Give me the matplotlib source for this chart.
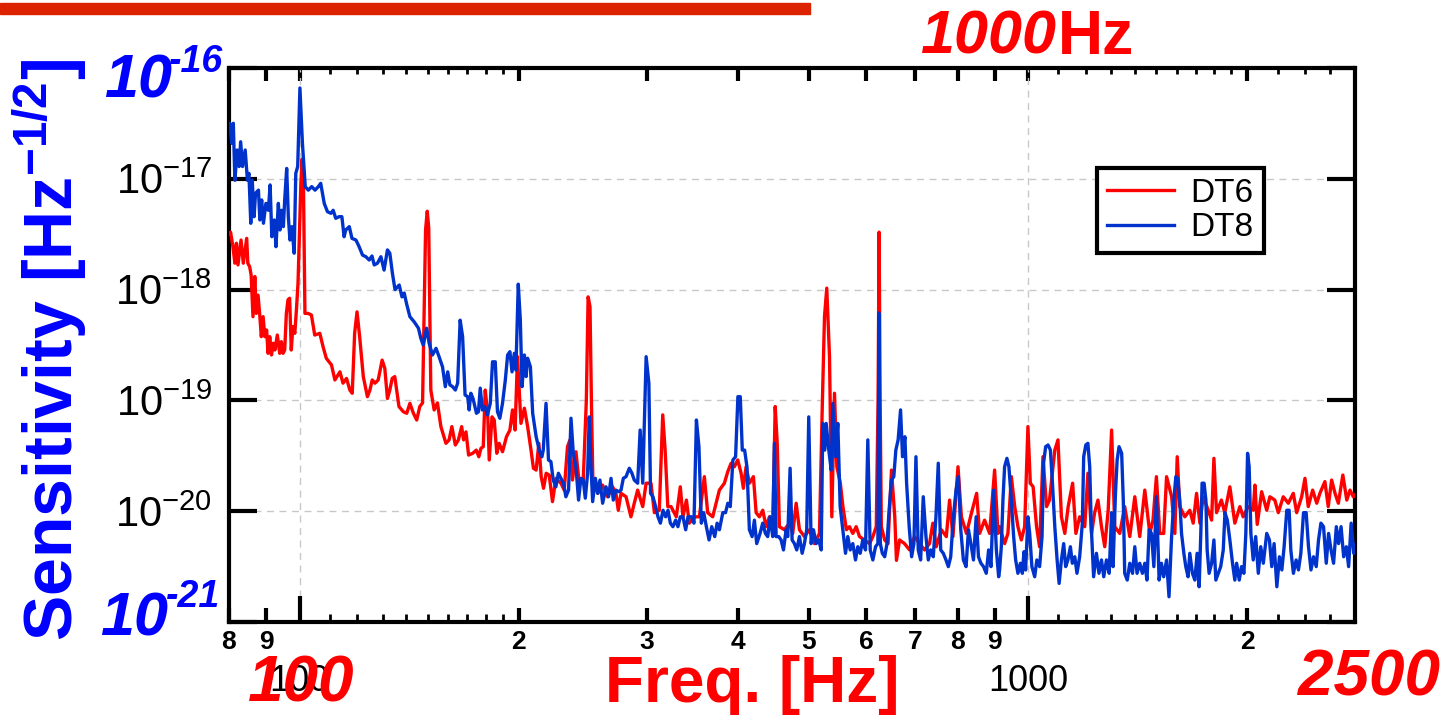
import matplotlib
matplotlib.use("Agg")
import matplotlib.pyplot as plt
from matplotlib.ticker import FixedLocator, FixedFormatter, NullLocator, NullFormatter
from matplotlib.patches import Rectangle

# DT6 (red) spectrum
dt6_freq = [80.0, 80.4, 81.0, 81.5, 81.9, 82.3, 83.1, 83.7, 84.6, 84.9,
            85.4, 85.8, 86.3, 86.8, 87.2, 87.7, 88.2, 88.6, 89.1, 89.6,
            90.1, 90.5, 91.0, 91.5, 92.0, 92.5, 93.2, 93.9, 94.4, 94.9,
            95.4, 95.9, 96.4, 96.9, 97.4, 97.9, 98.5, 99.0, 99.5, 99.8,
            100.4, 100.8, 101.2, 101.7, 102.7, 103.8, 104.9, 106.6, 107.7, 108.8,
            110.6, 111.8, 113.6, 114.7, 116.0, 117.2, 118.1, 119.0, 119.9, 120.9,
            122.3, 123.9, 124.9, 125.8, 126.9, 128.2, 129.8, 130.9, 132.0, 133.0,
            134.0, 135.1, 136.9, 138.8, 140.3, 141.7, 143.3, 144.8, 146.2, 147.5,
            148.9, 149.7, 150.4, 151.4, 153.0, 154.6, 156.3, 158.8, 160.4, 161.8,
            163.6, 165.2, 166.9, 167.9, 169.2, 170.6, 172.8, 174.8, 176.2, 177.4,
            178.7, 179.8, 181.2, 182.1, 183.7, 185.0, 186.5, 187.9, 189.9, 192.3,
            194.4, 196.0, 197.6, 199.1, 201.3, 203.5, 205.6, 207.8, 209.4, 211.2,
            213.0, 214.6, 216.2, 218.0, 220.1, 222.4, 224.8, 228.4, 230.8, 233.2,
            235.0, 236.9, 239.5, 242.0, 245.1, 247.5, 248.9, 250.4, 251.5, 252.6,
            256.7, 260.5, 264.7, 268.9, 271.8, 273.8, 276.2, 280.6, 285.0, 288.0,
            291.1, 295.8, 299.0, 303.6, 306.9, 311.7, 315.1, 317.5, 320.2, 323.5,
            328.9, 333.1, 335.9, 339.6, 342.7, 348.2, 353.8, 359.4, 363.2, 369.0,
            373.0, 376.9, 382.9, 387.0, 391.1, 395.2, 399.4, 403.7, 406.6, 410.1,
            414.4, 419.7, 423.3, 427.7, 432.3, 436.9, 441.5, 446.2, 449.6, 452.5,
            455.6, 462.9, 470.3, 475.2, 480.4, 485.4, 493.1, 501.0, 509.0, 517.1,
            521.6, 525.4, 529.2, 533.8, 537.7, 542.3, 546.3, 552.4, 556.9, 563.1,
            568.6, 574.6, 580.8, 586.9, 596.3, 605.8, 612.2, 618.8, 622.4, 624.4,
            626.4, 628.8, 635.5, 642.3, 649.3, 656.1, 659.6, 666.1, 676.7, 687.5,
            698.4, 709.5, 720.8, 732.3, 740.0, 748.0, 760.1, 772.2, 780.2, 788.5,
            801.2, 809.9, 822.9, 836.3, 849.8, 857.8, 871.5, 885.4, 899.5, 909.1,
            913.8, 928.4, 938.2, 948.4, 958.5, 968.3, 978.8, 989.1, 999.4, 1007,
            1016, 1027, 1037, 1048, 1060, 1070, 1088, 1099, 1111, 1123,
            1135, 1151, 1163, 1177, 1196, 1208, 1222, 1234, 1247, 1261,
            1274, 1288, 1302, 1315, 1336, 1357, 1379, 1401, 1423, 1446,
            1469, 1484, 1500, 1516, 1535, 1549, 1574, 1590, 1602, 1615,
            1641, 1667, 1685, 1703, 1721, 1739, 1767, 1786, 1799, 1814,
            1842, 1862, 1892, 1922, 1953, 1973, 2005, 2037, 2048, 2063,
            2092, 2126, 2147, 2181, 2205, 2240, 2276, 2312, 2337, 2374,
            2399, 2424, 2458, 2490, 2515, 2555, 2582, 2610, 2638, 2666,
            2704, 2738, 2766, 2795, 2810]
dt6_asd = [3.2e-18, 3.3e-18, 2.44e-18, 1.73e-18, 2.62e-18, 1.67e-18, 2.80e-18, 1.73e-18, 2.90e-18, 1.73e-18,
           1.61e-18, 1.35e-18, 5.7e-19, 1.31e-18, 6.1e-19, 8.9e-19, 5.7e-19, 3.76e-19, 5.7e-19, 3.76e-19,
           4.32e-19, 2.66e-19, 3.76e-19, 2.57e-19, 3.28e-19, 2.85e-19, 3.89e-19, 2.66e-19, 3.39e-19, 2.66e-19,
           2.85e-19, 6.1e-19, 8.1e-19, 8.35e-19, 2.85e-19, 4.63e-19, 4.03e-19, 6.55e-19, 1.14e-18, 2.28e-18,
           9.1e-18, 1.5e-17, 1.04e-17, 6.1e-19, 6.1e-19, 5.9e-19, 3.89e-19, 4.03e-19, 3.05e-19, 2.40e-19,
           2.09e-19, 1.53e-19, 1.81e-19, 1.43e-19, 1.58e-19, 1.24e-19, 1.16e-19, 4.03e-19, 6.3e-19, 3.76e-19,
           1.64e-19, 1.08e-19, 1.24e-19, 1.53e-19, 1.43e-19, 1.53e-19, 2.31e-19, 1.95e-19, 1.04e-19, 1.24e-19,
           1.58e-19, 1.64e-19, 8.8e-20, 7.9e-20, 7.65e-20, 9.4e-20, 7.65e-20, 6.65e-20, 8.8e-20, 9.5e-20,
           3.45e-18, 5.1e-18, 3.6e-18, 1.24e-19, 8.2e-20, 9.5e-20, 5.8e-20, 4.1e-20, 4.4e-20, 5.8e-20,
           3.96e-20, 4.4e-20, 5.8e-20, 4.4e-20, 5.2e-20, 3.21e-20, 3.33e-20, 3.56e-20, 3.10e-20, 3.70e-20,
           3.82e-20, 1.24e-19, 7.65e-20, 2.90e-20, 7.1e-20, 6.65e-20, 3.33e-20, 4.1e-20, 3.44e-20, 4.7e-20,
           5.4e-20, 8.2e-20, 5.4e-20, 2.48e-19, 6.2e-20, 8.5e-20, 5.8e-20, 3.56e-20, 2.44e-20, 2.35e-20,
           4.1e-20, 2.05e-20, 1.61e-20, 2.20e-20, 2.12e-20, 1.22e-20, 1.98e-20, 1.79e-20, 1.55e-20, 3.82e-20,
           4.4e-20, 1.91e-20, 3.44e-20, 1.79e-20, 1.91e-20, 1.0e-19, 8.6e-19, 7.0e-19, 1.0e-19, 2.05e-20,
           1.45e-20, 1.72e-20, 1.35e-20, 1.66e-20, 1.45e-20, 1.02e-20, 1.45e-20, 1.35e-20, 8.9e-21, 1.18e-20,
           1.55e-20, 1.10e-20, 1.79e-20, 1.79e-20, 9.7e-21, 1.02e-20, 7.4e-20, 3.56e-20, 1.10e-20, 1.10e-20,
           8.9e-21, 1.66e-20, 8.9e-21, 1.26e-20, 7.8e-21, 8.9e-21, 8.9e-21, 2.05e-20, 9.7e-21, 8.9e-21,
           1.18e-20, 1.55e-20, 1.79e-20, 2.27e-20, 2.71e-20, 2.52e-20, 2.90e-20, 2.20e-20, 1.61e-20, 2.52e-20,
           1.79e-20, 2.05e-20, 9.7e-21, 8.9e-21, 1.02e-20, 7.25e-21, 8.9e-21, 7.25e-21, 8.8e-20, 4.1e-20,
           7.25e-21, 6.8e-21, 7.8e-21, 6.3e-21, 1.18e-20, 6.8e-21, 5.9e-21, 6.8e-21, 5.1e-21, 6.3e-21,
           8.2e-20, 5.7e-19, 1.03e-18, 2.48e-19, 8.9e-21, 1.16e-19, 2.52e-20, 1.79e-20, 1.10e-20, 6.8e-21,
           7.25e-21, 6.3e-21, 7.25e-21, 5.9e-21, 5.5e-21, 5.1e-21, 5.9e-21, 7.25e-21, 1.0e-19, 3.3e-18,
           1.0e-19, 7.25e-21, 5.5e-21, 5.1e-21, 2.35e-20, 8.9e-21, 3.6e-21, 5.5e-21, 5.1e-21, 4.47e-21,
           5.9e-21, 5.1e-21, 4.47e-21, 5.1e-21, 7.8e-21, 4.78e-21, 6.8e-21, 5.9e-21, 1.26e-20, 5.9e-21,
           2.52e-20, 8.9e-21, 6.3e-21, 9.7e-21, 1.45e-20, 6.3e-21, 8.3e-21, 6.3e-21, 2.35e-20, 6.3e-21,
           7.25e-21, 5.1e-21, 6.3e-21, 2.05e-20, 1.10e-20, 7.25e-21, 5.5e-21, 7.25e-21, 5.8e-20, 1.79e-20,
           1.66e-20, 7.25e-21, 4.78e-21, 3.10e-20, 1.10e-20, 1.26e-20, 3.56e-20, 4.4e-20, 8.9e-21, 6.3e-21,
           1.10e-20, 1.79e-20, 6.3e-21, 8.9e-21, 7.25e-21, 2.20e-20, 6.3e-21, 9.7e-21, 1.26e-20, 7.25e-21,
           4.78e-21, 1.02e-20, 5.4e-20, 7.25e-21, 6.3e-21, 1.10e-20, 5.9e-21, 1.35e-20, 5.9e-21, 1.55e-20,
           6.3e-21, 8.3e-21, 2.05e-20, 6.3e-21, 6.3e-21, 2.05e-20, 1.35e-20, 6.3e-21, 3.1e-20, 1.10e-20,
           8.9e-21, 1.02e-20, 7.8e-21, 1.45e-20, 7.8e-21, 1.35e-20, 1.02e-20, 8.3e-21, 3.0e-20, 9.7e-21,
           1.26e-20, 9.7e-21, 1.66e-20, 7.8e-21, 1.10e-20, 8.9e-21, 1.10e-20, 1.02e-20, 1.72e-20, 7.6e-21,
           1.50e-20, 1.02e-20, 1.35e-20, 1.26e-20, 9.7e-21, 1.35e-20, 1.18e-20, 1.45e-20, 9.7e-21, 1.35e-20,
           1.98e-20, 1.10e-20, 1.55e-20, 1.18e-20, 1.45e-20, 1.85e-20, 1.10e-20, 1.91e-20, 1.45e-20, 1.18e-20,
           2.12e-20, 1.26e-20, 1.55e-20, 1.35e-20, 1.4e-20]

# DT8 (blue) spectrum
dt8_freq = [79.8, 80.2, 80.7, 81.1, 81.5, 82.1, 82.6, 83.0, 83.5, 84.2,
            84.8, 85.2, 85.7, 86.1, 86.6, 87.0, 87.8, 88.2, 88.7, 89.2,
            89.9, 90.6, 91.1, 91.6, 92.3, 92.8, 93.5, 94.0, 94.5, 95.0,
            95.4, 96.0, 96.5, 97.0, 97.6, 98.3, 98.8, 99.4, 100.1, 100.9,
            101.8, 102.8, 103.9, 105.0, 106.1, 106.9, 108.1, 109.2, 110.4, 111.2,
            112.1, 113.3, 114.3, 115.1, 115.7, 117.0, 118.0, 119.5, 120.7, 122.0,
            123.3, 124.6, 125.7, 126.6, 127.9, 129.3, 130.6, 132.0, 133.0, 134.1,
            135.2, 136.3, 137.0, 138.2, 139.2, 140.2, 141.7, 143.7, 145.6, 146.7,
            147.8, 149.4, 150.6, 152.2, 153.9, 155.4, 157.1, 158.5, 159.7, 160.8,
            162.2, 163.6, 164.8, 166.1, 167.4, 168.7, 170.1, 170.9, 171.8, 173.0,
            174.9, 176.0, 177.0, 178.2, 179.6, 181.1, 182.7, 184.0, 185.6, 186.9,
            188.3, 189.9, 191.6, 193.0, 194.4, 195.7, 197.1, 198.1, 199.6, 200.9,
            202.0, 203.5, 204.6, 205.6, 207.4, 208.9, 211.2, 213.3, 215.1, 216.0,
            217.9, 219.6, 221.3, 222.9, 224.8, 226.6, 228.4, 230.3, 232.0, 234.0,
            235.8, 237.5, 239.5, 241.5, 243.3, 245.1, 246.7, 248.5, 249.8, 251.2,
            252.5, 254.7, 256.5, 258.4, 260.6, 263.4, 265.5, 267.6, 269.5, 271.8,
            274.1, 276.2, 278.2, 280.6, 283.5, 285.9, 288.0, 291.1, 293.4, 295.8,
            299.0, 301.6, 303.2, 305.5, 308.1, 310.4, 312.8, 315.4, 318.0, 320.4,
            322.8, 325.4, 328.2, 330.6, 333.1, 335.9, 338.8, 341.3, 345.0, 347.8,
            350.5, 353.3, 356.0, 358.7, 361.7, 364.8, 367.9, 371.4, 374.2, 376.9,
            381.0, 384.3, 387.1, 390.1, 393.3, 396.7, 399.6, 402.6, 405.2, 408.2,
            411.2, 414.4, 418.0, 421.0, 424.1, 428.6, 432.2, 435.9, 439.1, 442.4,
            446.1, 448.5, 450.9, 454.6, 458.1, 461.5, 465.4, 467.8, 471.3, 474.3,
            477.8, 481.3, 485.4, 489.6, 493.1, 496.7, 499.9, 503.7, 507.4, 511.8,
            516.0, 520.0, 522.6, 525.9, 528.2, 532.6, 536.7, 539.4, 544.0, 548.0,
            552.1, 556.7, 561.5, 565.6, 569.9, 574.6, 579.5, 583.7, 588.2, 593.0,
            598.1, 602.5, 607.1, 612.2, 617.4, 622.0, 624.2, 626.8, 630.8, 635.5,
            640.2, 644.4, 649.3, 654.1, 658.3, 663.1, 668.2, 672.4, 677.4, 681.1,
            686.7, 692.0, 697.0, 701.5, 706.6, 712.0, 717.9, 724.1, 729.4, 734.9,
            741.0, 747.3, 752.8, 758.6, 764.9, 771.4, 777.1, 783.0, 789.6, 796.3,
            802.2, 808.3, 815.0, 822.0, 828.1, 834.5, 841.4, 848.6, 854.8, 861.5,
            868.6, 876.1, 882.6, 889.3, 896.7, 904.5, 911.1, 913.8, 918.8, 923.5,
            928.4, 935.2, 941.1, 948.4, 955.3, 961.4, 968.3, 975.9, 982.0, 987.0,
            992.2, 999.4, 1005, 1012, 1021, 1028, 1037, 1045, 1050, 1057,
            1065, 1073, 1080, 1088, 1096, 1103, 1111, 1119, 1126, 1134,
            1143, 1150, 1159, 1167, 1177, 1187, 1192, 1200, 1208, 1215,
            1221, 1230, 1241, 1251, 1261, 1270, 1281, 1292, 1302, 1308,
            1318, 1325, 1333, 1344, 1351, 1357, 1368, 1379, 1391, 1401,
            1411, 1423, 1435, 1446, 1456, 1466, 1477, 1488, 1500, 1513,
            1524, 1535, 1549, 1561, 1573, 1585, 1595, 1604, 1615, 1624,
            1636, 1646, 1658, 1667, 1681, 1694, 1706, 1717, 1726, 1733,
            1744, 1754, 1761, 1772, 1786, 1799, 1810, 1824, 1838, 1853,
            1863, 1877, 1892, 1908, 1922, 1933, 1949, 1963, 1978, 1990,
            2001, 2011, 2022, 2037, 2053, 2070, 2086, 2103, 2126, 2144,
            2160, 2176, 2195, 2213, 2230, 2246, 2265, 2282, 2294, 2313,
            2333, 2350, 2368, 2388, 2408, 2426, 2445, 2465, 2486, 2504,
            2523, 2544, 2566, 2585, 2605, 2626, 2649, 2668, 2689, 2711,
            2734, 2754, 2776, 2799, 2810]
dt8_asd = [2.93e-17, 3.17e-17, 2.09e-17, 3.17e-17, 9.7e-18, 1.82e-17, 1.29e-17, 2.16e-17, 1.29e-17, 1.82e-17,
           9.7e-18, 1.12e-17, 3.97e-18, 9.7e-18, 4.55e-18, 7.4e-18, 7.9e-18, 4.25e-18, 6.45e-18, 3.97e-18,
           6.0e-18, 5.2e-18, 8.8e-18, 3.0e-18, 4.25e-18, 2.44e-18, 6.0e-18, 3.45e-18, 5.2e-18, 3.70e-18,
           6.45e-18, 1.24e-17, 4.55e-18, 2.80e-18, 3.70e-18, 2.13e-18, 1.12e-17, 1.29e-17, 6.6e-17, 2.09e-17,
           8.5e-18, 7.9e-18, 8.5e-18, 7.9e-18, 8.5e-18, 9.1e-18, 6.0e-18, 5.05e-18, 4.88e-18, 5.2e-18,
           4.4e-18, 4.55e-18, 4.55e-18, 3.0e-18, 3.45e-18, 3.70e-18, 2.90e-18, 2.80e-18, 2.44e-18, 2.05e-18,
           1.98e-18, 1.85e-18, 2.01e-18, 1.67e-18, 1.73e-18, 1.98e-18, 1.50e-18, 2.28e-18, 2.13e-18, 1.40e-18,
           1.0e-18, 1.06e-18, 1.10e-18, 8.6e-19, 9.3e-19, 7.5e-19, 5.7e-19, 5.1e-19, 4.48e-19, 3.63e-19,
           3.16e-19, 4.48e-19, 3.28e-19, 2.57e-19, 2.95e-19, 2.48e-19, 2.01e-19, 1.33e-19, 1.81e-19, 1.38e-19,
           1.33e-19, 1.24e-19, 1.43e-19, 5.3e-19, 3.76e-19, 1.12e-19, 1.08e-19, 8.2e-20, 1.16e-19, 1.04e-19,
           7.65e-20, 7.9e-20, 1.29e-19, 8.2e-20, 8.8e-20, 7.4e-20, 9.4e-20, 2.23e-19, 2.23e-19, 7.9e-20,
           6.9e-20, 9.4e-20, 1.53e-19, 2.57e-19, 2.75e-19, 1.81e-19, 2.66e-19, 1.88e-19, 1.12e-18, 5.3e-19,
           1.33e-19, 2.57e-19, 1.64e-19, 2.40e-19, 2.01e-19, 7.65e-20, 4.7e-20, 3.56e-20, 3.10e-20, 3.56e-20,
           9.4e-20, 2.90e-20, 2.80e-20, 1.91e-20, 1.66e-20, 2.20e-20, 1.98e-20, 1.79e-20, 1.35e-20, 1.55e-20,
           6.9e-20, 3.33e-20, 2.52e-20, 1.26e-20, 1.98e-20, 1.91e-20, 1.31e-20, 2.20e-20, 7.1e-20, 2.52e-20,
           1.22e-20, 1.98e-20, 1.45e-20, 1.91e-20, 1.18e-20, 1.66e-20, 1.35e-20, 1.98e-20, 1.26e-20, 1.55e-20,
           1.50e-20, 1.55e-20, 1.98e-20, 2.05e-20, 2.44e-20, 2.20e-20, 1.91e-20, 1.79e-20, 5.4e-20, 1.79e-20,
           2.48e-19, 1.43e-19, 1.45e-20, 1.35e-20, 1.10e-20, 8.9e-21, 7.8e-21, 1.02e-20, 8.9e-21, 1.02e-20,
           7.8e-21, 7.25e-21, 8.3e-21, 7.25e-21, 8.9e-21, 8.9e-21, 6.8e-21, 8.9e-21, 8.9e-21, 7.8e-21,
           6.65e-20, 3.82e-20, 7.8e-21, 9.7e-21, 7.25e-21, 5.5e-21, 7.25e-21, 5.9e-21, 7.8e-21, 6.8e-21,
           9.7e-21, 9.7e-21, 1.18e-20, 1.10e-20, 2.90e-20, 3.10e-20, 1.08e-19, 1.08e-19, 3.56e-20, 3.56e-20,
           2.52e-20, 6.8e-21, 5.9e-21, 8.3e-21, 5.1e-21, 6.3e-21, 7.8e-21, 6.3e-21, 5.9e-21, 8.9e-21,
           5.9e-21, 4.1e-20, 5.9e-21, 5.9e-21, 5.5e-21, 4.47e-21, 6.8e-21, 5.9e-21, 2.44e-20, 5.5e-21,
           5.1e-21, 4.47e-21, 5.9e-21, 4.17e-21, 5.1e-21, 6.8e-21, 7.1e-20, 5.1e-21, 6.8e-21, 5.1e-21,
           5.5e-21, 4.47e-21, 6.2e-20, 3.56e-20, 6.2e-20, 3.56e-20, 2.35e-20, 9.4e-20, 3.10e-20, 6.2e-20,
           1.10e-20, 6.8e-21, 4.17e-21, 5.9e-21, 4.47e-21, 5.1e-21, 3.63e-21, 4.78e-21, 4.17e-21, 5.5e-21,
           4.47e-21, 4.4e-20, 4.47e-21, 3.63e-21, 4.78e-21, 5.1e-21, 6.15e-19, 5.1e-21, 4.17e-21, 3.88e-21,
           5.1e-21, 1.02e-20, 1.91e-20, 2.05e-20, 3.56e-20, 4.4e-20, 8.2e-20, 3.10e-20, 4.7e-20, 1.79e-20,
           7.25e-21, 3.88e-21, 5.1e-21, 3.10e-20, 4.47e-21, 3.63e-21, 1.35e-20, 5.9e-21, 3.63e-21, 4.47e-21,
           3.88e-21, 8.9e-21, 2.71e-20, 4.47e-21, 4.17e-21, 3.63e-21, 3.16e-21, 3.88e-21, 8.9e-21, 1.55e-20,
           2.05e-20, 6.8e-21, 3.63e-21, 3.16e-21, 6.8e-21, 5.1e-21, 3.63e-21, 8.9e-21, 3.88e-21, 3.39e-21,
           3.16e-21, 2.75e-21, 4.47e-21, 3.16e-21, 1.55e-20, 4.47e-21, 2.56e-21, 2.95e-21, 4.78e-21, 1.26e-20,
           2.52e-20, 3.0e-20, 2.52e-20, 1.26e-20, 5.9e-21, 3.63e-21, 2.75e-21, 3.39e-21, 2.75e-21, 4.31e-21,
           2.95e-21, 8.9e-21, 6.3e-21, 3.16e-21, 2.56e-21, 3.63e-21, 3.16e-21, 5.9e-21, 2.71e-20, 3.82e-20,
           3.96e-20, 3.56e-20, 1.79e-20, 7.25e-21, 3.63e-21, 2.23e-21, 3.63e-21, 5.1e-21, 3.16e-21, 3.63e-21,
           4.78e-21, 3.39e-21, 3.88e-21, 2.75e-21, 3.88e-21, 7.8e-21, 3.10e-20, 3.96e-20, 4.1e-20, 2.52e-20,
           7.25e-21, 2.56e-21, 4.17e-21, 2.75e-21, 3.63e-21, 2.56e-21, 3.63e-21, 2.75e-21, 9.7e-21, 3.16e-21,
           1.45e-20, 2.90e-20, 3.82e-20, 3.33e-20, 1.26e-20, 2.75e-21, 2.39e-21, 3.39e-21, 2.75e-21, 4.78e-21,
           2.75e-21, 3.39e-21, 2.75e-21, 3.39e-21, 2.39e-21, 6.8e-21, 6.3e-21, 3.16e-21, 1.35e-20, 2.39e-21,
           3.39e-21, 2.56e-21, 3.63e-21, 1.69e-21, 5.5e-21, 1.26e-20, 2.05e-20, 1.98e-20, 1.26e-20, 6.3e-21,
           4.17e-21, 3.16e-21, 2.56e-21, 4.17e-21, 2.75e-21, 2.39e-21, 4.17e-21, 2.08e-21, 6.3e-21, 1.79e-20,
           1.79e-20, 1.26e-20, 4.47e-21, 2.75e-21, 3.39e-21, 5.5e-21, 2.39e-21, 2.75e-21, 3.16e-21, 4.47e-21,
           9.7e-21, 8.3e-21, 5.5e-21, 3.39e-21, 2.39e-21, 3.39e-21, 2.39e-21, 3.16e-21, 2.75e-21, 6.3e-21,
           3.33e-20, 2.52e-20, 6.3e-21, 3.63e-21, 5.9e-21, 2.75e-21, 4.78e-21, 3.39e-21, 6.3e-21, 5.5e-21,
           3.16e-21, 5.1e-21, 2.08e-21, 3.88e-21, 2.95e-21, 4.78e-21, 1.02e-20, 1.02e-20, 4.47e-21, 2.75e-21,
           3.63e-21, 2.95e-21, 4.17e-21, 9.7e-21, 9.7e-21, 4.78e-21, 2.95e-21, 3.88e-21, 3.16e-21, 5.5e-21,
           7.8e-21, 7.25e-21, 3.39e-21, 6.3e-21, 4.47e-21, 3.39e-21, 7.25e-21, 5.1e-21, 7.25e-21, 3.88e-21,
           4.78e-21, 3.16e-21, 7.8e-21, 4.17e-21, 5.0e-21]

# axis ticks
x_major = [100, 1000]
x_major_labels = ["100", "1000"]
x_mid = [80, 90, 200, 300, 400, 500, 600, 700, 800, 900, 2000]
x_mid_labels = ["8", "9", "2", "3", "4", "5", "6", "7", "8", "9", "2"]
x_small = [110, 120, 130, 140, 150, 160, 170, 180, 190,
           1100, 1200, 1300, 1400, 1500, 1600, 1700, 1800, 1900,
           2200, 2400, 2600]
y_major = [1e-21, 1e-20, 1e-19, 1e-18, 1e-17, 1e-16]
y_major_labels = ["", r"$10^{-20}$", r"$10^{-19}$", r"$10^{-18}$", r"$10^{-17}$", ""]

RED = "#ff0000"
BLUE_LINE = "#0033cc"
BLUE_TXT = "#0000ff"

plt.rcParams["font.family"] = ["Liberation Sans", "DejaVu Sans"]
plt.rcParams["mathtext.fontset"] = "custom"
plt.rcParams["mathtext.rm"] = "Liberation Sans"
plt.rcParams["mathtext.bf"] = "Liberation Sans:bold"
plt.rcParams["mathtext.it"] = "Liberation Sans:italic"

W, H = 1443, 724
fig = plt.figure(figsize=(W / 100, H / 100), dpi=100)
ax = fig.add_axes([229 / W, 102 / H, 1126 / W, 554 / H])


def fpos(x, y):
    # pixel position -> figure fraction
    return x / W, 1 - y / H


ax.plot(dt6_freq, dt6_asd, color=RED, lw=2.4, label="DT6", zorder=3)
ax.plot(dt8_freq, dt8_asd, color=BLUE_LINE, lw=2.4, label="DT8", zorder=4)

ax.set_xscale("log")
ax.set_yscale("log")
ax.set_xlim(80, 2810)
ax.set_ylim(1e-21, 1e-16)

for s in ax.spines.values():
    s.set_linewidth(3)

ax.xaxis.set_major_locator(FixedLocator(x_major))
ax.xaxis.set_major_formatter(FixedFormatter(x_major_labels))
ax.xaxis.set_minor_locator(FixedLocator(x_small))
ax.xaxis.set_minor_formatter(NullFormatter())
ax.tick_params(axis="x", which="major", direction="in", length=19, width=3,
               labelsize=26, pad=30, top=False)
ax.tick_params(axis="x", which="minor", direction="in", length=6, width=2, top=False)

ax.yaxis.set_major_locator(FixedLocator(y_major))
ax.yaxis.set_major_formatter(FixedFormatter(y_major_labels))
ax.yaxis.set_minor_locator(NullLocator())
ax.tick_params(axis="y", which="major", direction="in", length=20, width=3,
               labelsize=30, pad=12, right=True)

ax.grid(True, which="major", ls=(0, (5, 4)), color="#c8c8c8", lw=1)

# labelled minor ticks (8, 9, 2 ... 9, 2)
sec = ax.secondary_xaxis("bottom")
sec.spines["bottom"].set_visible(False)
sec.xaxis.set_major_locator(FixedLocator(x_mid))
sec.xaxis.set_major_formatter(FixedFormatter(x_mid_labels))
sec.xaxis.set_minor_locator(NullLocator())
sec.tick_params(direction="in", length=10, width=3, labelsize=19, pad=6)
for lb in sec.get_xticklabels():
    lb.set_fontweight("bold")

top = ax.secondary_xaxis("top")
top.spines["top"].set_visible(False)
top.xaxis.set_major_locator(FixedLocator(sorted(x_major + x_mid)))
top.xaxis.set_major_formatter(NullFormatter())
top.xaxis.set_minor_locator(FixedLocator(x_small))
top.xaxis.set_minor_formatter(NullFormatter())
top.tick_params(which="major", direction="in", length=9, width=3)
top.tick_params(which="minor", direction="in", length=4, width=2)

leg = ax.legend(loc="upper left", bbox_to_anchor=(0.771, 0.8195), fontsize=24,
                frameon=True, fancybox=False, edgecolor="black", framealpha=1,
                handlelength=2.0, handletextpad=0.5, borderpad=0.3,
                labelspacing=0.1, borderaxespad=0)
leg.get_frame().set_linewidth(3)

# big annotation texts
fig.text(*fpos(752, 685), "Freq. [Hz]", color=RED, fontsize=46, fontweight="bold",
         ha="center", va="center")
fig.text(*fpos(50, 350), r"Sensitivity [Hz$^{\mathbf{-1/2}}$]", color=BLUE_TXT,
         fontsize=49, fontweight="bold", rotation=90, ha="center", va="center")

fig.text(*fpos(301, 685), "100", color=RED, fontsize=46, fontweight="bold",
         fontstyle="italic", ha="center", va="center")
fig.text(*fpos(1369, 678), "2500", color=RED, fontsize=46, fontweight="bold",
         fontstyle="italic", ha="center", va="center")
fig.text(*fpos(1056, 54), "1000", color=RED, fontsize=44, fontweight="bold",
         fontstyle="italic", ha="right", va="baseline")
fig.text(*fpos(1058, 54), "Hz", color=RED, fontsize=45, fontweight="bold",
         ha="left", va="baseline")

fig.text(*fpos(104, 97), "10", color=BLUE_TXT, fontsize=44, fontweight="bold",
         fontstyle="italic", ha="left", va="baseline")
fig.text(*fpos(169, 72), "-16", color=BLUE_TXT, fontsize=27, fontweight="bold",
         fontstyle="italic", ha="left", va="baseline")
fig.text(*fpos(100, 635), "10", color=BLUE_TXT, fontsize=44, fontweight="bold",
         fontstyle="italic", ha="left", va="baseline")
fig.text(*fpos(166, 607), "-21", color=BLUE_TXT, fontsize=27, fontweight="bold",
         fontstyle="italic", ha="left", va="baseline")

# red bar cut at the top edge
fig.patches.append(Rectangle((0, 1 - 14 / H), 810 / W, 11 / H,
                             transform=fig.transFigure, color="#dd2200"))

fig.savefig("out.png", dpi=100)
